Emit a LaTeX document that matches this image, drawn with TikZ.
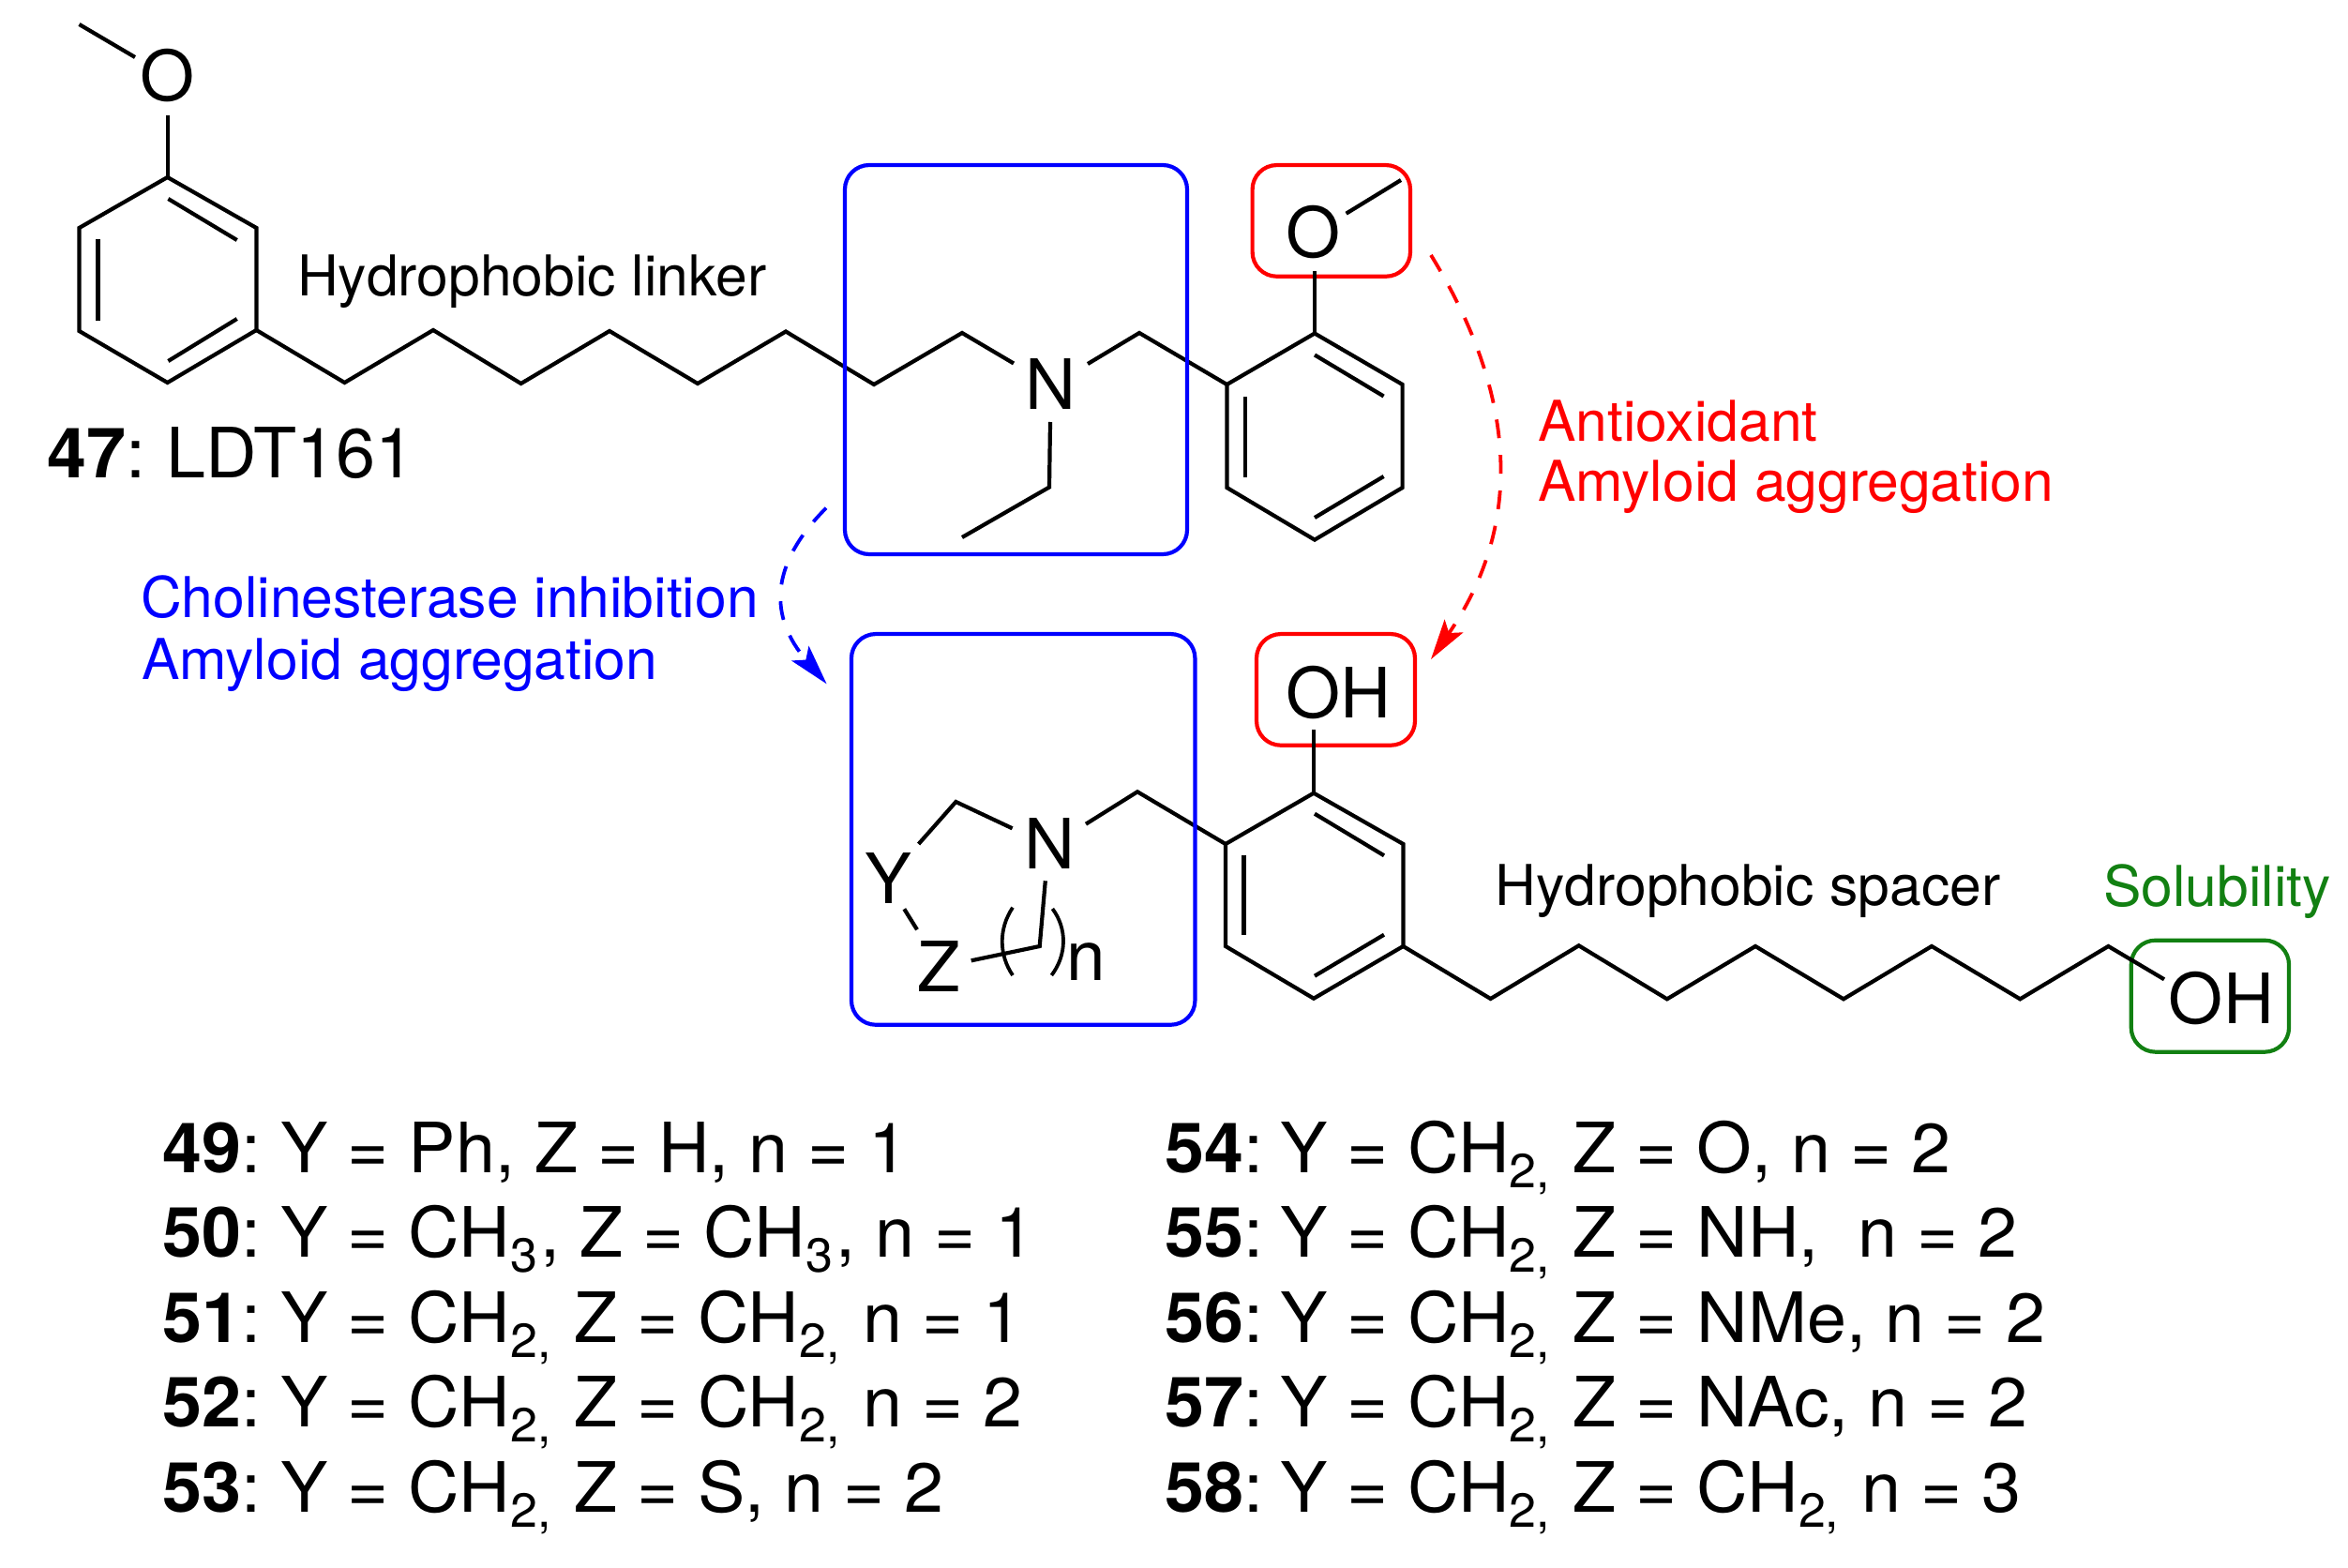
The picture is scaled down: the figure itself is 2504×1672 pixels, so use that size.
\documentclass[tikz,border=0pt]{standalone}
\usepackage{fontspec}
\setmainfont[FakeStretch=1.01]{TeX Gyre Heros}
\newfontfamily\listfont[FakeStretch=1.02]{TeX Gyre Heros}
\usetikzlibrary{arrows.meta}
\definecolor{solgreen}{RGB}{18,128,18}
\newcommand{\sbx}[1]{\raisebox{-16pt}{\fontsize{51pt}{51pt}\selectfont #1}\hspace{3.5pt}}
\newcommand{\lid}[2][7pt]{\textbf{#2}:\hspace{-#1}}
\tikzset{
  bond/.style={line width=4.2pt,black,line join=miter},
  thinbond/.style={line width=3.8pt,black},
  atom/.style={anchor=base,inner sep=0pt,font=\fontsize{74pt}{74pt}\selectfont},
  lbl/.style={anchor=base west,inner sep=0pt,font=\fontsize{60pt}{60pt}\selectfont},
  listline/.style={anchor=base west,inner sep=0pt,font=\listfont\fontsize{74pt}{74pt}\selectfont},
  zone/.style={draw,line width=4.2pt,rounded corners=26pt,inner sep=0pt,fill=none},
  dasharrow/.style={line width=3.8pt,dash pattern=on 20pt off 18pt,
    -{Stealth[length=43pt,width=24pt,inset=9pt]}},
}
\begin{document}
\begin{tikzpicture}[x=1pt,y=-1pt]
\useasboundingbox (0,0) rectangle (2504,1672);

% ---- atom labels
\node[atom] (O1) at (178.6,107.7) {O};
\node[atom] (N1) at (1120,436) {N};
\node[atom] (O2) at (1401,274.5) {O};
\node[atom] (OH1) at (1427.5,765) {OH};
\node[atom] (N2) at (1119,926.7) {N};
\node[atom] (Y) at (947,963.3) {Y};
\node[atom] (Z) at (1001,1057.3) {Z};
\node[atom] (nn) at (1158.5,1045) {n};
\node[atom] (OH2) at (2369,1091.7) {OH};

% ---- coordinates: upper molecule
\coordinate (me1) at (84.5,26);
\coordinate (o1a) at (144,61);
\coordinate (o1b) at (178.6,123);
\coordinate (a1) at (178.6,189);
\coordinate (a2) at (273.4,243);
\coordinate (a3) at (273.4,352);
\coordinate (a4) at (178.6,408);
\coordinate (a5) at (84.5,353);
\coordinate (a6) at (84.5,243);
\coordinate (c1) at (367.5,408);
\coordinate (c2) at (462,352);
\coordinate (c3) at (555.6,409);
\coordinate (c4) at (650,353);
\coordinate (c5) at (744,409);
\coordinate (c6) at (838,353.5);
\coordinate (c7) at (932,410);
\coordinate (c8) at (1026,355);
\coordinate (n1w) at (1081,387.5);
\coordinate (n1e) at (1160,388);
\coordinate (c9) at (1215,355);
\coordinate (n1s) at (1120,450);
\coordinate (et1) at (1119,519.5);
\coordinate (et2) at (1026,573);
\coordinate (b1) at (1402,355.5);
\coordinate (b2) at (1495.6,410);
\coordinate (b3) at (1495.6,520);
\coordinate (b4) at (1402,575.6);
\coordinate (b5) at (1308.4,520);
\coordinate (b6) at (1308.4,410);
\coordinate (o2s) at (1402,289);
\coordinate (o2e) at (1435.6,227.7);
\coordinate (me2) at (1494,192);

% ---- coordinates: lower molecule
\coordinate (ya) at (979.6,900);
\coordinate (yb) at (1019.4,855);
\coordinate (yc) at (1079.6,883.3);
\coordinate (n2e) at (1158,878.7);
\coordinate (d0) at (1213,844.3);
\coordinate (e1) at (1401,845.7);
\coordinate (e2) at (1496.4,900);
\coordinate (e3) at (1496.4,1009);
\coordinate (e4) at (1401,1064.7);
\coordinate (e5) at (1307,1009);
\coordinate (e6) at (1307,900);
\coordinate (oh1s) at (1401,778.3);
\coordinate (yz1) at (964.3,969.3);
\coordinate (yz2) at (978,991.3);
\coordinate (ze) at (1035.7,1024.3);
\coordinate (zc) at (1108.7,1009);
\coordinate (n2s) at (1114.8,939.3);
\coordinate (f1) at (1589.6,1065);
\coordinate (f2) at (1683.7,1008.3);
\coordinate (f3) at (1777.8,1065.3);
\coordinate (f4) at (1872,1009);
\coordinate (f5) at (1966,1065.3);
\coordinate (f6) at (2060,1009);
\coordinate (f7) at (2154.3,1065.3);
\coordinate (f8) at (2248.4,1009);
\coordinate (f9) at (2308,1044.3);

% ---- coloured zones drawn under the bonds where needed
\node[zone,red,minimum width=168.4pt,minimum height=118.7pt] (redA) at (1419.8,235.4) {};
\node[zone,red,minimum width=169pt,minimum height=118.7pt] (redB) at (1424.5,735.4) {};
\node[zone,solgreen,minimum width=168.3pt,minimum height=119pt] (greenA) at (2356.9,1062.2) {};

% ---- bonds: upper molecule
\draw[bond] (me1)--(o1a);
\draw[bond] (o1b)--(a1);
\draw[bond] (a1)--(a2)--(a3)--(a4)--(a5)--(a6)--cycle;
\draw[bond] (179.4,212)--(252.7,256);
\draw[bond] (104.4,255)--(104.4,342);
\draw[bond] (252.7,340)--(179.4,385);
\draw[bond] (a3)--(c1)--(c2)--(c3)--(c4)--(c5)--(c6)--(c7)--(c8)--(n1w);
\draw[bond] (n1e)--(c9)--(b6);
\draw[bond] (n1s)--(et1)--(et2);
\draw[bond] (b1)--(b2)--(b3)--(b4)--(b5)--(b6)--cycle;
\draw[bond] (1402,378.5)--(1475.6,422.5);
\draw[bond] (1327.6,423)--(1327.6,508.6);
\draw[bond] (1475.6,508)--(1402,552);
\draw[bond] (o2s)--(b1);
\draw[bond] (o2e)--(me2);

% ---- bonds: lower molecule
\draw[bond] (ya)--(yb)--(yc);
\draw[bond] (n2e)--(d0)--(e6);
\draw[bond] (e1)--(e2)--(e3)--(e4)--(e5)--(e6)--cycle;
\draw[bond] (1402,867.7)--(1476,912.3);
\draw[bond] (1326.5,911.7)--(1326.5,997.3);
\draw[bond] (1476,996.7)--(1402,1040.7);
\draw[bond] (oh1s)--(e1);
\draw[bond] (yz1)--(yz2);
\draw[bond] (ze)--(zc)--(n2s);
\draw[thinbond] (1080,967.7) .. controls (1065,990) and (1065,1018) .. (1080,1040);
\draw[thinbond] (1122.4,969) .. controls (1138,990) and (1138,1018) .. (1121.4,1040);
\draw[bond] (e3)--(f1)--(f2)--(f3)--(f4)--(f5)--(f6)--(f7)--(f8)--(f9);

% ---- blue zones
\node[zone,blue,minimum width=365pt,minimum height=415pt] (blueA) at (1083.5,383.5) {};
\node[zone,blue,minimum width=366.5pt,minimum height=416.7pt] (blueB) at (1091.2,884.4) {};

% ---- dashed arrows
\coordinate (rs) at (1526,272);
\coordinate (rt) at (1526,703);
\coordinate (bs) at (881,541.7);
\coordinate (bt) at (881.6,729.3);
\draw[dasharrow,red] (rs) .. controls (1622,428) and (1622,564) .. (rt);
\draw[dasharrow,blue] (bs) .. controls (820,603) and (820,658) .. (bt);

% ---- labels
\node[lbl] (linker) at (317,315.5) {Hydrophobic linker};
\node[listline] (ldt) at (50.5,509) {\lid[6pt]{47} LDT161};
\node[lbl,red] (anti) at (1640,470.7) {Antioxidant};
\node[lbl,red] (amyr) at (1640,534.6) {Amyloid aggregation};
\node[lbl,blue] (chol) at (150,658.5) {Cholinesterase inhibition};
\node[lbl,blue] (amyb) at (151,724) {Amyloid aggregation};
\node[lbl] (spacer) at (1594.5,965) {Hydrophobic spacer};
\node[lbl,solgreen] (solu) at (2243,966) {Solubility};

% ---- compound list
\node[listline] (l49) at (173.5,1250) {\lid{49} Y = Ph, Z = H, n = 1};
\node[listline] (l50) at (173.5,1340.7) {\lid{50} Y = CH\sbx{3}, Z = CH\sbx{3}, n = 1};
\node[listline] (l51) at (173.5,1431.7) {\lid{51} Y = CH\sbx{2,} Z = CH\sbx{2,} n = 1};
\node[listline] (l52) at (173.5,1521.7) {\lid{52} Y = CH\sbx{2,} Z = CH\sbx{2,} n = 2};
\node[listline] (l53) at (173.5,1612.7) {\lid{53} Y = CH\sbx{2,} Z = S, n = 2};
\node[listline] (l54) at (1242,1250) {\lid[10pt]{54} Y = CH\sbx{2,} Z = O, n = 2};
\node[listline] (l55) at (1242,1340.7) {\lid[10pt]{55} Y = CH\sbx{2,} Z = NH,\ \ n = 2};
\node[listline] (l56) at (1242,1431.7) {\lid[10pt]{56} Y = CH\sbx{2,} Z = NMe, n = 2};
\node[listline] (l57) at (1242,1521.7) {\lid[10pt]{57} Y = CH\sbx{2,} Z = NAc, n = 2};
\node[listline] (l58) at (1242,1612.7) {\lid[10pt]{58} Y = CH\sbx{2,} Z = CH\sbx{2,} n = 3};
\end{tikzpicture}
\end{document}
